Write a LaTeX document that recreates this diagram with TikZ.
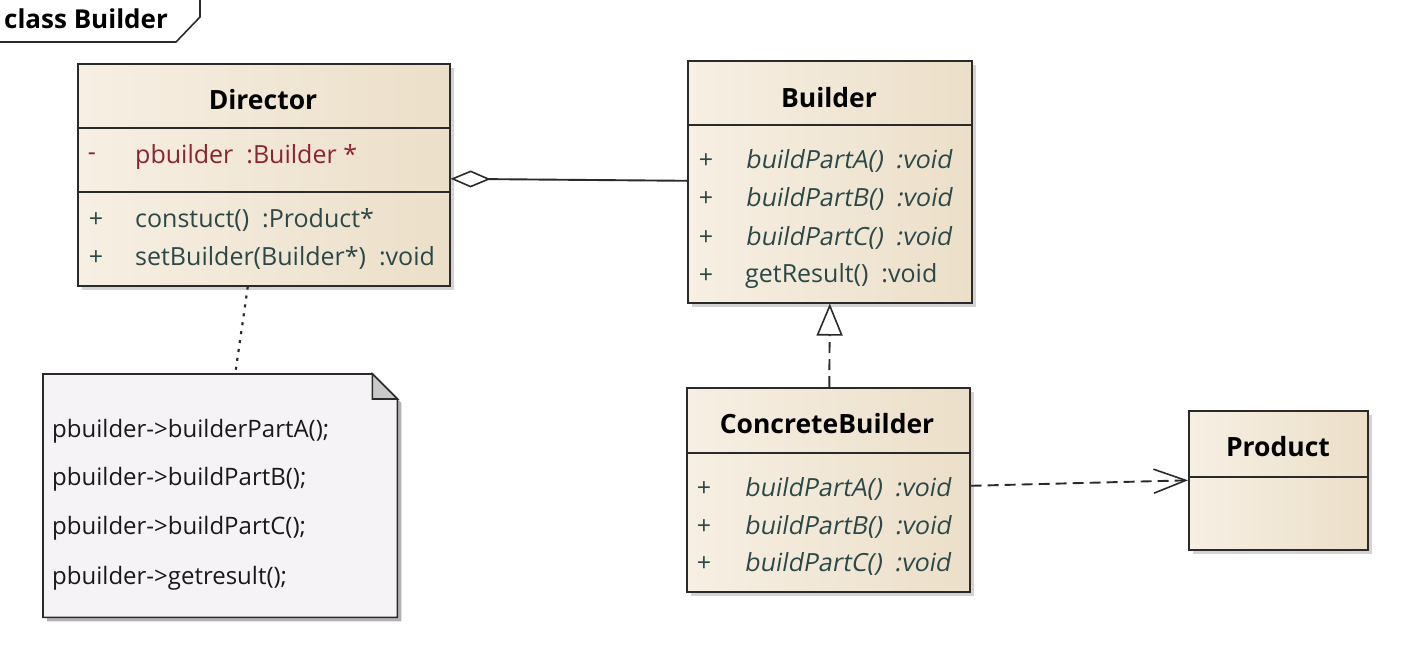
\documentclass[tikz,border=0pt]{standalone}
\usepackage{fontspec}
\setmainfont{Open Sans}
\newfontfamily\slantfont[FakeSlant=0.18]{Open Sans}
\usetikzlibrary{arrows.meta,shadows,calc}

\definecolor{edge}{HTML}{2A2A2A}
\definecolor{classL}{HTML}{F6EFE3}
\definecolor{classR}{HTML}{ECDFC9}
\definecolor{notebg}{HTML}{F6F3F6}
\definecolor{foldbg}{HTML}{C9C9C9}
\definecolor{attrc}{HTML}{8B2332}
\definecolor{opc}{HTML}{2B4848}

\newcommand{\abstractop}[1]{{\slantfont #1}}

\tikzset{
  umlclass/.style={rectangle, draw=edge, line width=1.6pt, inner sep=0pt,
    anchor=north west, left color=classL, right color=classR,
    drop shadow={shadow xshift=4pt, shadow yshift=-4pt, opacity=0.35}},
  divider/.style={draw=edge, line width=1.6pt},
  cname/.style={font=\fontsize{26.5}{30}\selectfont\bfseries, text=black, inner sep=0pt},
  vis/.style={font=\fontsize{25}{29}\selectfont, inner sep=0pt},
  member/.style={font=\fontsize{25}{29}\selectfont, inner sep=0pt, anchor=west},
  notetxt/.style={font=\fontsize{24}{28}\selectfont, text=black!90, inner sep=0pt, anchor=west},
  conn/.style={draw=edge, line width=1.9pt},
}

\begin{document}
\begin{tikzpicture}[x=1pt,y=-1pt]
\useasboundingbox (0,0) rectangle (1402,656);

% diagram frame tab
\draw[edge, line width=1.6pt] (0,42) -- (176,42) -- (200,17) -- (200,0);
\node[font=\fontsize{26}{30}\selectfont\bfseries, anchor=west, inner sep=0pt] (frametitle) at (4,19) {class Builder};

% ---- Director
\node[umlclass, minimum width=372pt, minimum height=222pt] (director) at (77,63) {};
\draw[divider] (77,128) -- (449,128);
\draw[divider] (77,192) -- (449,192);
\node[cname] (directorname) at (263,100) {Director};
\node[vis, text=attrc] (dv1) at (92,157) {-};
\node[member, text=attrc] (dm1) at (135,157) {pbuilder\ \ :Builder *};
\node[vis, text=opc] (dv2) at (96,220) {+};
\node[member, text=opc] (dm2) at (135,220) {constuct()\ \ :Product*};
\node[vis, text=opc] (dv3) at (96,258) {+};
\node[member, text=opc] (dm3) at (135,258) {setBuilder(Builder*)\ \ :void};

% ---- Builder
\node[umlclass, minimum width=284pt, minimum height=242pt] (builder) at (687,60) {};
\draw[divider] (687,125) -- (971,125);
\node[cname] (buildername) at (829,98) {Builder};
\node[vis, text=opc] (bv1) at (706,161) {+};
\node[member, text=opc] (bm1) at (745,161) {\abstractop{buildPartA()\ \ :void}};
\node[vis, text=opc] (bv2) at (706,199) {+};
\node[member, text=opc] (bm2) at (745,199) {\abstractop{buildPartB()\ \ :void}};
\node[vis, text=opc] (bv3) at (706,238) {+};
\node[member, text=opc] (bm3) at (745,238) {\abstractop{buildPartC()\ \ :void}};
\node[vis, text=opc] (bv4) at (706,276) {+};
\node[member, text=opc] (bm4) at (745,276) {getResult()\ \ :void};

% ---- ConcreteBuilder
\node[umlclass, minimum width=283pt, minimum height=204pt] (concrete) at (686,387) {};
\draw[divider] (686,453) -- (969,453);
\node[cname] (concretename) at (827,424) {ConcreteBuilder};
\node[vis, text=opc] (cv1) at (704,489) {+};
\node[member, text=opc] (cm1) at (744,489) {\abstractop{buildPartA()\ \ :void}};
\node[vis, text=opc] (cv2) at (704,527) {+};
\node[member, text=opc] (cm2) at (744,527) {\abstractop{buildPartB()\ \ :void}};
\node[vis, text=opc] (cv3) at (704,564) {+};
\node[member, text=opc] (cm3) at (744,564) {\abstractop{buildPartC()\ \ :void}};

% ---- Product
\node[umlclass, minimum width=179pt, minimum height=139pt] (product) at (1188,410) {};
\draw[divider] (1188,477) -- (1367,477);
\node[cname] (productname) at (1278,447) {Product};

% ---- note with folded corner
\node[rectangle, inner sep=0pt, anchor=north west, minimum width=354pt, minimum height=243pt] (note) at (43,374) {};
\fill[black, opacity=0.3] ($(note.north west)+(4,4)$) -- ($(note.north east)+(-21,4)$) -- ($(note.north east)+(4,29)$)
  -- ($(note.south east)+(4,4)$) -- ($(note.south west)+(4,4)$) -- cycle;
\draw[edge, line width=1.6pt, fill=notebg] (note.north west) -- ($(note.north east)+(-25,0)$) -- ($(note.north east)+(0,25)$)
  -- (note.south east) -- (note.south west) -- cycle;
\draw[edge, line width=1.6pt, fill=foldbg] ($(note.north east)+(-25,0)$) -- ($(note.north east)+(-25,25)$) -- ($(note.north east)+(0,25)$) -- cycle;
\node[notetxt] (n1) at (52,431) {pbuilder->builderPartA();};
\node[notetxt] (n2) at (52,479) {pbuilder->buildPartB();};
\node[notetxt] (n3) at (52,528) {pbuilder->buildPartC();};
\node[notetxt] (n4) at (52,578) {pbuilder->getresult();};

% ---- connectors
% aggregation Director <>--- Builder
\draw[conn, {Diamond[length=40pt, width=17pt, fill=white, line width=1.6pt]}-] ([yshift=-4pt]director.east) -- ([yshift=1pt]builder.west);
% realization ConcreteBuilder ..|> Builder
\draw[conn, dash pattern=on 11pt off 6pt, -{Triangle[open, length=32pt, width=26pt, line width=1.6pt]}] ([xshift=1pt]concrete.north) -- (builder.south);
% dependency ConcreteBuilder ..> Product
\draw[conn, dash pattern=on 11pt off 6pt, -{Straight Barb[length=32pt, width=24pt, line width=1.6pt]}] ([yshift=4pt]concrete.east) -- (product.west);
% note attachment
\draw[conn, line width=2.2pt, dash pattern=on 3pt off 6pt] ([xshift=-16pt]director.south) -- ([xshift=15pt]note.north);
\end{tikzpicture}
\end{document}
